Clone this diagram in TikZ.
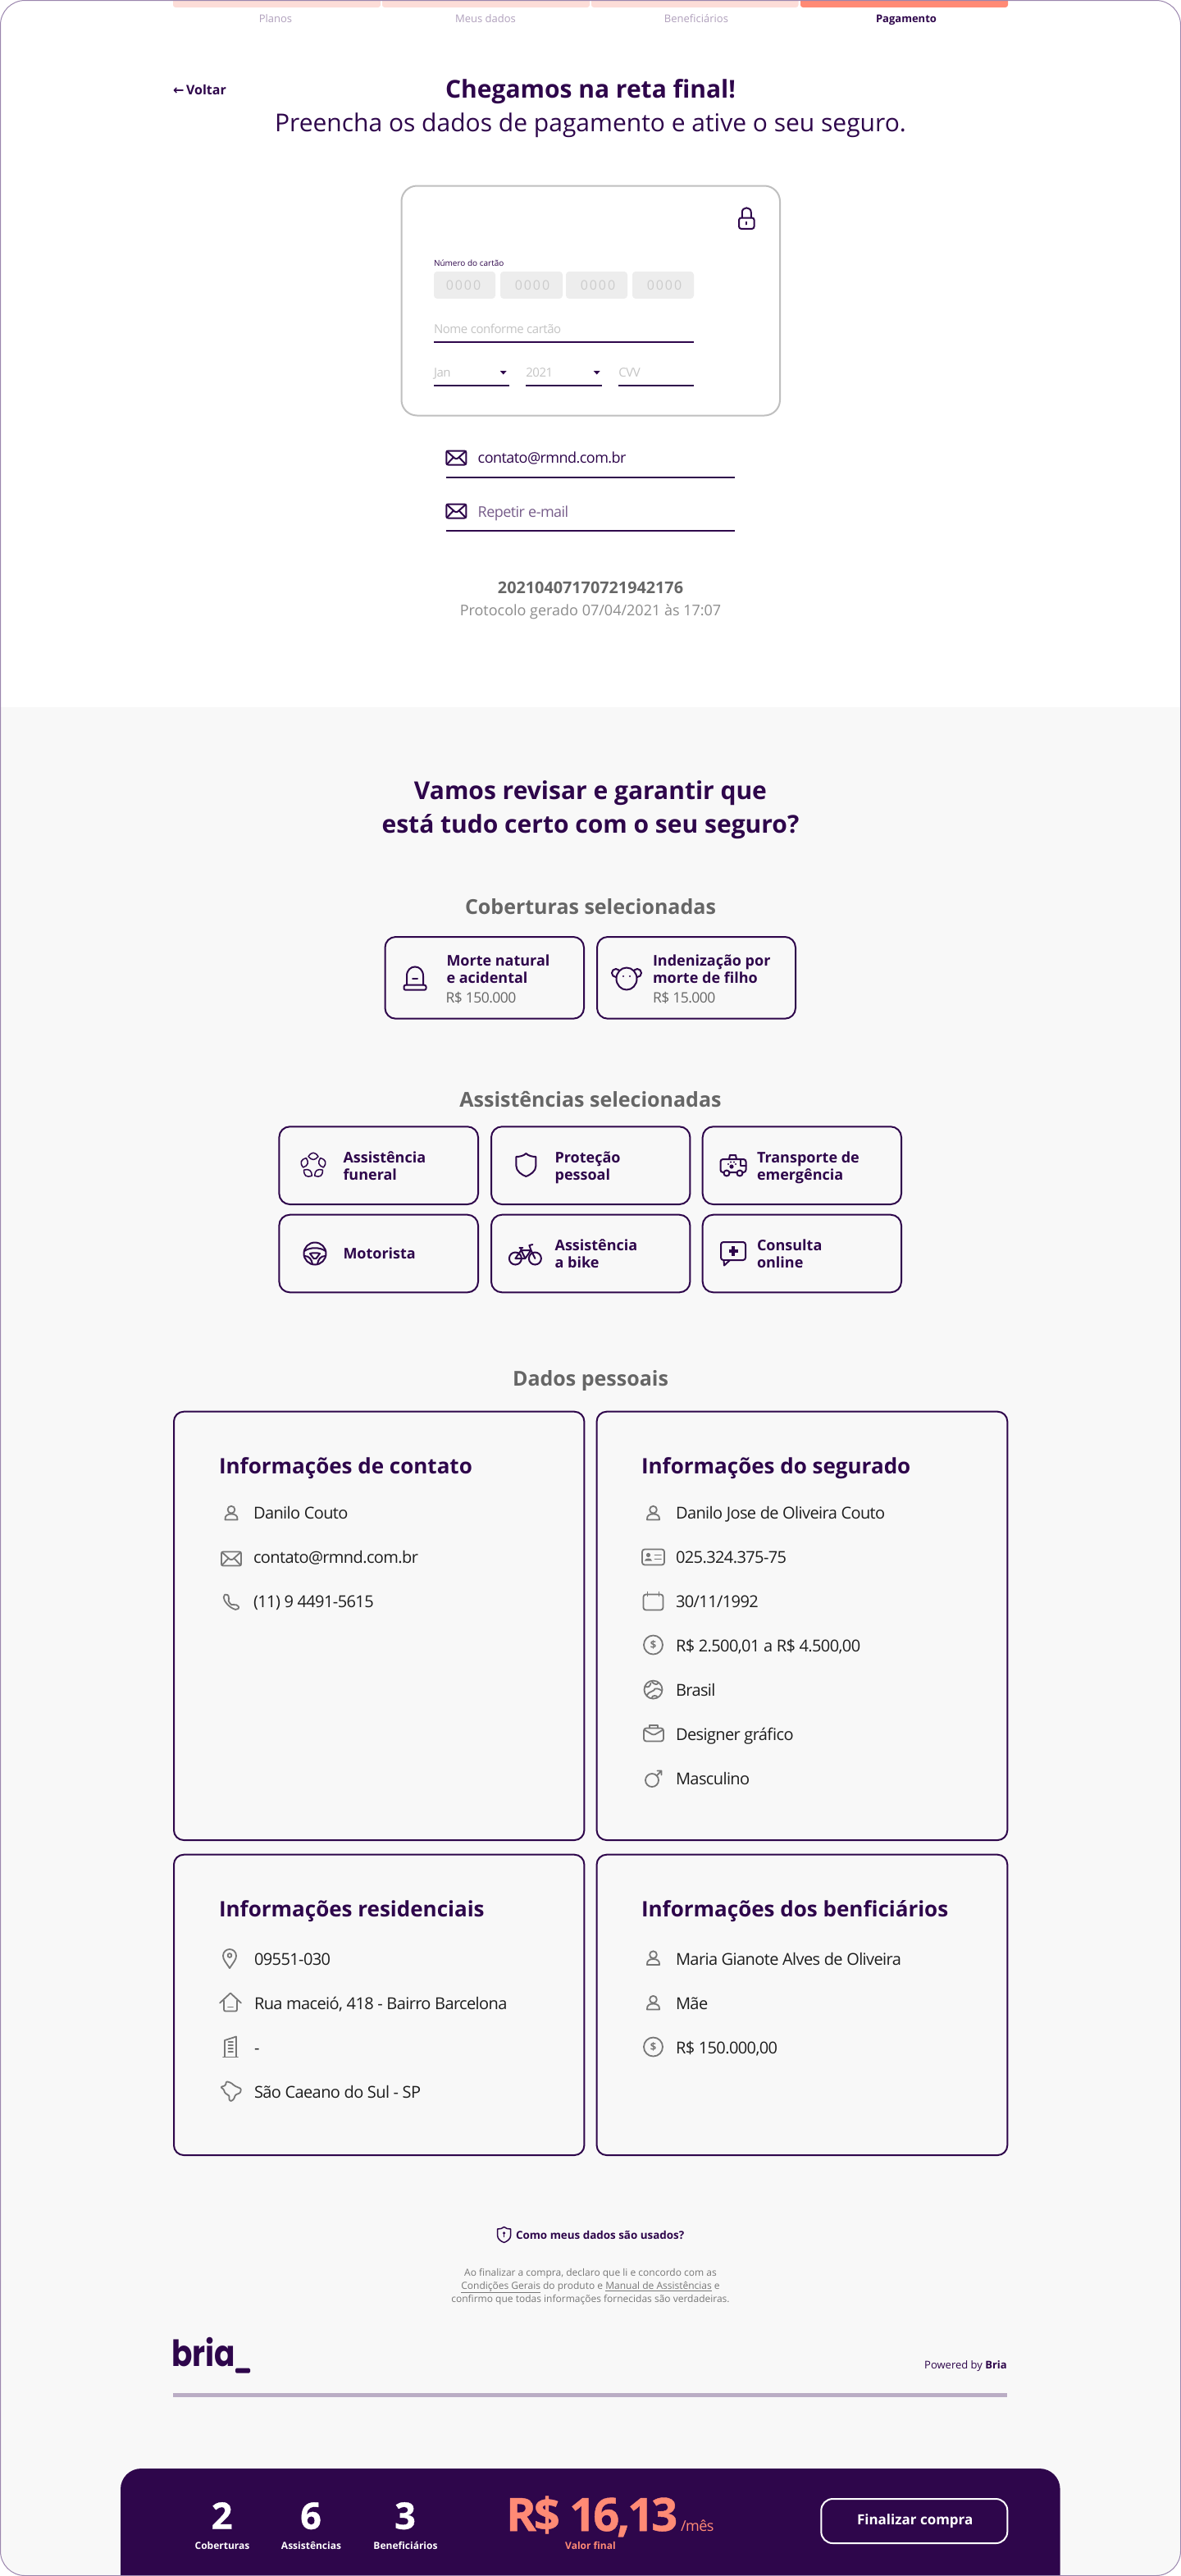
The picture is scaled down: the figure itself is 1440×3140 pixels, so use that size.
\documentclass[tikz,border=0pt]{standalone}
\usepackage{graphicx}
\usepackage{fontspec}
\setmainfont{Open Sans}
\newfontfamily\xb{Open Sans}[BoldFeatures={FakeBold=0.8}]
\newfontfamily\xbt{Open Sans}[BoldFeatures={FakeBold=0.8},LetterSpace=-5.5]
\newfontfamily\spc{Open Sans}[LetterSpace=12]
\newfontfamily\tight{Open Sans}[LetterSpace=-3]
\newfontfamily\pop{Poppins}
\newfontfamily\djv{DejaVu Sans}
\definecolor{ink}{HTML}{2E064B}
\definecolor{frameC}{HTML}{9B86AE}
\definecolor{paper}{HTML}{F8F8F8}
\definecolor{coral}{HTML}{FF8A75}
\definecolor{peach}{HTML}{FDDDD8}
\definecolor{gr}{HTML}{777777}
\definecolor{head}{HTML}{666666}
\definecolor{muted}{HTML}{B0A0BC}
\definecolor{phold}{HTML}{C4C4C4}
\definecolor{txt}{HTML}{1E1E1E}
\newcommand{\fz}[1]{\fontsize{#1}{#1}\selectfont}
\tikzset{
  x=1pt,y=-1pt,
  base/.style={inner sep=0,outer sep=0,anchor=base},
  lft/.style={inner sep=0,outer sep=0,anchor=base west},
  stepl/.style={base,font=\fz{13},text=muted},
  sect/.style={base,font=\bfseries\fz{25},text=head},
  ctitle/.style={lft,font=\bfseries\fz{18},text=ink},
  cval/.style={lft,font=\tight\fz{17.5},text=head},
  ititle/.style={lft,font=\bfseries\fz{26},text=ink},
  row/.style={lft,font=\tight\fz{20},text=txt},
  ph/.style={lft,font=\tight\fz{15},text=phold},
  digits/.style={base,font=\spc\fz{16},text=black!20},
  bnum/.style={base,font=\xb\bfseries\fz{45},text=white},
  blab/.style={base,font=\bfseries\fz{12},text=white},
  cardst/.style={draw=ink,line width=2pt,rounded corners=13pt},
  infost/.style={draw=ink,line width=2pt,rounded corners=12pt},
  fieldln/.style={draw=ink,line width=2pt},
  numbox/.style={fill=black!7,rounded corners=4pt},
  gi/.style={color=gr,line width=1.8pt,line join=round,line cap=round},
  pi/.style={color=ink,line width=2pt,line join=round,line cap=round},
  pics/ipers/.style={code={
    \draw (0,-3.8) circle (4.4);
    \draw (-7.5,8.5) .. controls (-8.2,3) and (-4,1.5) .. (0,1.5) .. controls (4,1.5) and (8.2,3) .. (7.5,8.5) -- cycle;}},
  pics/imail/.style={code={
    \draw[rounded corners=2pt] (-12,-8.5) rectangle (12,8.5);
    \draw (-11.5,-8) -- (-2,0.5) .. controls (-1,1.5) and (1,1.5) .. (2,0.5) -- (11.5,-8);
    \draw (-11.5,8) -- (-3.5,-0.5) (11.5,8) -- (3.5,-0.5);}},
  pics/iphone/.style={code={
    \draw[rounded corners=2pt] (-6,-10) -- (-9.5,-7.5) .. controls (-9,-1) and (-3,7) .. (7,10) -- (10,6.5) -- (4.5,2.5) -- (2,4.5) .. controls (-1,3) and (-3,0) .. (-4,-3) -- (-2,-5.5) -- cycle;}},
  pics/icard/.style={code={
    \draw[rounded corners=3pt] (-13.5,-9.5) rectangle (13.5,9.5);
    \fill (-6,-2.5) circle (2.6);
    \fill (-10.5,4.5) .. controls (-10,0.5) and (-2,0.5) .. (-1.5,4.5) -- cycle;
    \draw (2,-2.5) -- (9.5,-2.5) (2,2.5) -- (9.5,2.5);}},
  pics/ical/.style={code={
    \draw[rounded corners=3pt] (-12,-8) rectangle (12,11);
    \draw (-7,-11) -- (-7,-6) (7,-11) -- (7,-6);}},
  pics/idollar/.style={code={
    \draw (0,0) circle (11.5);
    \node[inner sep=0,text=gr,font=\bfseries\fz{13}] (d) at (0,0) {\$};}},
  pics/iglobe/.style={code={
    \draw (0,0) circle (11);
    \draw (-10,-4) .. controls (-6,-2) and (-4,-4) .. (-3,-8) (-2,-10.5) .. controls (0,-7) and (4,-5) .. (6,-8);
    \draw (-8,7) .. controls (-6,2) and (2,2) .. (2,-1) .. controls (6,-2) and (8,0) .. (10.5,1);
    \draw (-2,10.5) .. controls (-1,6) and (4,7) .. (5,9);}},
  pics/ibag/.style={code={
    \draw[rounded corners=3pt] (-12,-6) rectangle (12,10);
    \draw (-5,-6) -- (-5,-9.5) -- (5,-9.5) -- (5,-6);
    \draw (-11.5,-4) -- (-2,1.5) .. controls (-1,2) and (1,2) .. (2,1.5) -- (11.5,-4);}},
  pics/imale/.style={code={
    \draw (-2,2) circle (8);
    \draw (3.5,-3.5) -- (9.5,-9.5) (4.5,-9.5) -- (9.5,-9.5) -- (9.5,-4.5);}},
  pics/ipin/.style={code={
    \draw (0,11.5) .. controls (-5,4) and (-8,1) .. (-8,-3.5) .. controls (-8,-8.5) and (-4,-11.5) .. (0,-11.5) .. controls (4,-11.5) and (8,-8.5) .. (8,-3.5) .. controls (8,1) and (5,4) .. (0,11.5) -- cycle;
    \draw (0,-4) circle (2.4);}},
  pics/ihouse/.style={code={
    \draw (-13,1) -- (0,-11) -- (13,1);
    \draw[rounded corners=2pt] (-8,-2) -- (-8,11) -- (8,11) -- (8,-2);
    \draw (-3,6) -- (3,6);}},
  pics/ibuild/.style={code={
    \draw (-9,12.5) -- (9,12.5);
    \draw (-7,12) -- (-7,-8) -- (7,-12.5) -- (7,12);
    \foreach \q in {-6,-2,2,6} {\draw (-2.5,\q) -- (3,\q);}}},
  pics/ibr/.style={code={
    \draw[rounded corners=1.2pt] (-12,-5) -- (-6,-7) -- (-5,-12) -- (1,-10) -- (5,-6.5) -- (13,-3) -- (12,2) -- (6,4.5) -- (4,10) -- (0,12.5) -- (-2,9) -- (-1,6) -- (-7,2) -- (-8,-2) -- cycle;}},
  pics/ilock/.style={code={
    \draw[rounded corners=2.5pt] (-9.2,-0.5) rectangle (9.2,12.8);
    \draw (-5.5,-0.5) -- (-5.5,-7) .. controls (-5.5,-14.5) and (5.5,-14.5) .. (5.5,-7) -- (5.5,-0.5);
    \draw (0,4.5) -- (0,7.5);}},
  pics/isiren/.style={code={
    \draw (-10,8) -- (-10,-3) .. controls (-10,-18) and (10,-18) .. (10,-3) -- (10,8);
    \draw (-3,0) -- (3,0);
    \draw[rounded corners=2pt] (-13.5,8) rectangle (13.5,14);}},
  pics/ibear/.style={code={
    \draw (-13,-6) circle (5) (13,-6) circle (5);
    \draw[fill=paper] (0,1) ellipse (12.5 and 13.5);
    \fill (-4,-2) circle (1.2) (4,-2) circle (1.2);}},
  pics/iflower/.style={code={
    \foreach \a in {18,90,162,234,306} {
      \begin{scope}[rotate=\a]
        \draw[line width=1.5pt] (11,-6) .. controls (17,-2) and (17,2) .. (11,6) .. controls (6,2) and (6,-2) .. (11,-6);
      \end{scope}}}},
  pics/ishield/.style={code={
    \draw (0,-14) .. controls (3,-11) and (8,-10) .. (12,-10) -- (12,1) .. controls (12,8) and (5,12) .. (0,14) .. controls (-5,12) and (-12,8) .. (-12,1) -- (-12,-10) .. controls (-8,-10) and (-3,-11) .. (0,-14) -- cycle;}},
  pics/iamb/.style={code={
    \draw[rounded corners=3pt] (-15.5,9) -- (-15.5,-7) -- (15.5,-7) -- (15.5,9) -- cycle;
    \draw (-5,-7) -- (-4,-12) -- (3,-12) -- (4,-7);
    \draw (9,-7) -- (9,1) -- (15.5,1);
    \fill[fill=paper] (-8,10) circle (3.5) (8,10) circle (3.5);
    \draw (-8,10) circle (3.5) (8,10) circle (3.5);
    \fill (-2,2) circle (2.6);
    \fill (-6,-1) circle (1.2) (-3,-3.5) circle (1.2) (1,-3.5) circle (1.2) (3,-1) circle (1.2);}},
  pics/iwheel/.style={code={
    \draw (0,0) circle (13.5);
    \draw (-13,-3) .. controls (-6,-8) and (6,-8) .. (13,-3);
    \draw (-12.5,3) .. controls (-7,3) and (-4,7) .. (-3,13) (12.5,3) .. controls (7,3) and (4,7) .. (3,13);
    \draw (-6,0) .. controls (-3,-1) and (3,-1) .. (6,0) -- (1.5,6) -- (-1.5,6) -- cycle;}},
  pics/ibike/.style={code={
    \draw (-12,5) circle (7.5) (12,5) circle (7.5);
    \draw (-12,5) -- (-5,-5) -- (7,-5) -- (12,5) (-5,-5) -- (0,5) -- (7,-5) (0,5) -- (-12,5);
    \draw (7,-5) -- (5,-11) -- (9,-12) (-7,-8) -- (-3,-8) (-5,-8) -- (-5,-5);}},
  pics/ichat/.style={code={
    \draw[rounded corners=3pt] (-15,-14) rectangle (15,8);
    \fill[fill=paper] (-12,9) -- (-10,14) -- (-4,9) -- cycle;
    \draw (-11.5,8) -- (-11,14.5) -- (-4,8);
    \draw[line width=3.5pt,line cap=butt] (-5.5,-3) -- (5.5,-3) (0,-9) -- (0,3);}},
  pics/ishsmall/.style={code={
    \draw (0,-9.5) .. controls (2,-7.5) and (5,-7) .. (8,-7) -- (8,1) .. controls (8,5) and (4,8) .. (0,9.5) .. controls (-4,8) and (-8,5) .. (-8,1) -- (-8,-7) .. controls (-5,-7) and (-2,-7.5) .. (0,-9.5) -- cycle;
    \fill (0,-2) circle (1.8);
    \draw (0,-2) -- (0,2.5);}},
}
\begin{document}
\begin{tikzpicture}
\useasboundingbox (0,0) rectangle (1440,3140);
\fill[white] (0,0) rectangle (1440,3140);
\begin{scope}
  \clip[rounded corners=30pt] (0.5,0.5) rectangle (1439.5,3139.5);
  \fill[paper] (0,862) rectangle (1440,3140);
  \fill[peach,rounded corners=3pt] (211,-6) rectangle (464,9);
  \fill[peach,rounded corners=3pt] (466,-6) rectangle (719,9);
  \fill[peach,rounded corners=3pt] (721,-6) rectangle (973.5,9);
  \fill[coral,rounded corners=3pt] (976,-6) rectangle (1229,9);
  \fill[ink,rounded corners=25pt] (147,3009) rectangle (1292.6,3190);
\end{scope}
\draw[frameC,line width=1pt,rounded corners=30pt] (0.5,0.5) rectangle (1439.5,3139.5);

% steps
\node[stepl] (s1) at (336,27) {Planos};
\node[stepl] (s2) at (592,27) {Meus dados};
\node[stepl] (s3) at (849,27) {Beneficiários};
\node[stepl,text=ink,font=\bfseries\fz{13}] (s4) at (1105,27) {Pagamento};

% header
\node[lft,text=ink,font=\bfseries\fz{16}] (back) at (211,115) {{\djv\bfseries\fz{16}←}\,Voltar};
\node[base,text=ink,font=\bfseries\fz{30}] (h1) at (720,119) {Chegamos na reta final!};
\node[base,text=ink,font=\fz{30}] (h2) at (720,160) {Preencha os dados de pagamento e ative o seu seguro.};

% payment card
\draw[draw=black!25,line width=2pt,rounded corners=19pt] (489.5,226.5) rectangle (951,506.5);
\pic[pi] at (910.3,266) {ilock};
\node[lft,text=ink,font=\fz{10}] (cn) at (529,324) {Número do cartão};
\fill[numbox] (529,331) rectangle (604,364);
\fill[numbox] (610,331) rectangle (686,364);
\fill[numbox] (690,331) rectangle (765,364);
\fill[numbox] (771,331) rectangle (846,364);
\node[digits] (d1) at (565,353) {0000};
\node[digits] (d2) at (649,353) {0000};
\node[digits] (d3) at (729,353) {0000};
\node[digits] (d4) at (810,353) {0000};
\node[ph] (nm) at (529,406) {Nome conforme cartão};
\draw[fieldln] (529,416.8) -- (846,416.8);
\node[ph] (mo) at (529,459) {Jan};
\node[ph] (yr) at (641.3,459) {2021};
\node[ph] (cv) at (754.3,459) {CVV};
\fill[ink] (609.7,452) -- (617.7,452) -- (613.7,456.5) -- cycle;
\fill[ink] (723.7,452) -- (731.7,452) -- (727.7,456.5) -- cycle;
\draw[fieldln] (529,470) -- (621,470);
\draw[fieldln] (641,470) -- (734,470);
\draw[fieldln] (754,470) -- (846,470);

% emails
\pic[pi] at (556.3,558) {imail};
\node[lft,text=ink,font=\tight\fz{18}] (em1) at (582.7,564) {contato@rmnd.com.br};
\draw[fieldln] (544,581.8) -- (896,581.8);
\pic[pi] at (556.3,623) {imail};
\node[lft,text=ink!65,font=\tight\fz{18}] (em2) at (582.7,630) {Repetir e-mail};
\draw[fieldln] (544,646.8) -- (896,646.8);
\node[base,text=head,font=\bfseries\fz{19.8}] (pn) at (720,723) {20210407170721942176};
\node[base,text=black!45,font=\fz{18}] (pd) at (720,750.7) {Protocolo gerado 07/04/2021 às 17:07};

% review title
\node[base,text=ink,font=\bfseries\fz{30}] (r1) at (720,974) {Vamos revisar e garantir que};
\node[base,text=ink,font=\bfseries\fz{30}] (r2) at (720,1015) {está tudo certo com o seu seguro?};

% coberturas
\node[sect] (t1) at (720,1114) {Coberturas selecionadas};
\draw[cardst] (469.5,1142) rectangle (712,1241.7);
\draw[cardst] (728,1142) rectangle (970,1241.7);
\pic[pi] at (506,1192.7) {isiren};
\node[ctitle] (c1a) at (544.5,1177.5) {Morte natural};
\node[ctitle] (c1b) at (544.5,1198.3) {e acidental};
\node[cval] (c1c) at (543.5,1222.7) {R\$ 150.000};
\pic[pi] at (764,1192) {ibear};
\node[ctitle] (c2a) at (796,1177.5) {Indenização por};
\node[ctitle] (c2b) at (796,1198.3) {morte de filho};
\node[cval] (c2c) at (796,1222.7) {R\$ 15.000};

% assistencias
\node[sect] (t2) at (720,1349) {Assistências selecionadas};
\draw[cardst] (340.4,1373.3) rectangle (583,1468);
\draw[cardst] (599,1373.3) rectangle (841.4,1468);
\draw[cardst] (856.7,1373.3) rectangle (1099,1468);
\draw[cardst] (340.4,1480.7) rectangle (583,1575.3);
\draw[cardst] (599,1480.7) rectangle (841.4,1575.3);
\draw[cardst] (856.7,1480.7) rectangle (1099,1575.3);
\pic[pi] at (382,1420.7) {iflower};
\node[ctitle] (a1a) at (418.5,1417.3) {Assistência};
\node[ctitle] (a1b) at (418.5,1438.3) {funeral};
\pic[pi] at (641.4,1420) {ishield};
\node[ctitle] (a2a) at (676.6,1417.3) {Proteção};
\node[ctitle] (a2b) at (676.6,1438.3) {pessoal};
\pic[pi] at (894,1420) {iamb};
\node[ctitle] (a3a) at (923,1417.3) {Transporte de};
\node[ctitle] (a3b) at (923,1438.3) {emergência};
\pic[pi] at (384,1528) {iwheel};
\node[ctitle] (a4a) at (418.5,1534.3) {Motorista};
\pic[pi] at (640.4,1529) {ibike};
\node[ctitle] (a5a) at (676.6,1524.3) {Assistência};
\node[ctitle] (a5b) at (676.6,1545.3) {a bike};
\pic[pi] at (894,1528) {ichat};
\node[ctitle] (a6a) at (923,1524.3) {Consulta};
\node[ctitle] (a6b) at (923,1545.3) {online};

% dados pessoais
\node[sect] (t3) at (720,1689) {Dados pessoais};
\draw[infost] (212,1720.7) rectangle (712.4,2243);
\draw[infost] (727.6,1720.7) rectangle (1228.3,2243);
\draw[infost] (212,2260.7) rectangle (712.4,2627);
\draw[infost] (727.6,2260.7) rectangle (1228.3,2627);

\node[ititle] (i1) at (267,1796.5) {Informações de contato};
\pic[gi] at (282,1844) {ipers};
\node[row] (i1a) at (309,1851.5) {Danilo Couto};
\pic[gi] at (282,1900) {imail};
\node[row] (i1b) at (309,1905.5) {contato@rmnd.com.br};
\pic[gi] at (282,1952.5) {iphone};
\node[row] (i1c) at (309,1959.5) {(11) 9 4491-5615};

\node[ititle] (i2) at (782,1796.5) {Informações do segurado};
\pic[gi] at (796.5,1844) {ipers};
\node[row] (i2a) at (824,1851.5) {Danilo Jose de Oliveira Couto};
\pic[gi] at (796.5,1898) {icard};
\node[row] (i2b) at (824,1905.5) {025.324.375-75};
\pic[gi] at (796.5,1951.5) {ical};
\node[row] (i2c) at (824,1959.5) {30/11/1992};
\pic[gi] at (796.5,2005) {idollar};
\node[row] (i2d) at (824,2013) {R\$ 2.500,01 a R\$ 4.500,00};
\pic[gi] at (796.5,2059.6) {iglobe};
\node[row] (i2e) at (824,2067) {Brasil};
\pic[gi] at (797,2112.5) {ibag};
\node[row] (i2f) at (824,2121) {Designer gráfico};
\pic[gi] at (797,2168) {imale};
\node[row] (i2g) at (824,2175) {Masculino};

\node[ititle] (i3) at (267,2336.5) {Informações residenciais};
\pic[gi] at (280,2387.5) {ipin};
\node[row] (i3a) at (310,2395) {09551-030};
\pic[gi] at (281,2440.5) {ihouse};
\node[row] (i3b) at (310,2449.5) {Rua maceió, 418 - Bairro Barcelona};
\pic[gi] at (281,2495) {ibuild};
\node[row] (i3c) at (310,2503.5) {-};
\pic[gi] at (281,2549) {ibr};
\node[row] (i3d) at (310,2557.5) {São Caeano do Sul - SP};

\node[ititle] (i4) at (782,2336.5) {Informações dos benficiários};
\pic[gi] at (796.5,2386.5) {ipers};
\node[row] (i4a) at (824,2395) {Maria Gianote Alves de Oliveira};
\pic[gi] at (796.5,2441) {ipers};
\node[row] (i4b) at (824,2449.5) {Mãe};
\pic[gi] at (796.5,2495) {idollar};
\node[row] (i4c) at (824,2503.5) {R\$ 150.000,00};

% footer
\pic[pi,line width=1.5pt] at (614.6,2724) {ishsmall};
\node[lft,text=ink,font=\bfseries\fz{13.4}] (q) at (629,2729) {Como meus dados são usados?};
\node[inner sep=0,align=center,text=gr,font=\fontsize{12}{16}\selectfont] (legal) at (720,2787) {Ao finalizar a compra, declaro que li e concordo com as\\\underline{Condições Gerais} do produto e \underline{Manual de Assistências} e\\confirmo que todas informações fornecidas são verdadeiras.};
\node[lft,text=ink,font=\pop\bfseries\fz{44}] (logo) at (209,2884) {\scalebox{.85}[1]{bria}};
\fill[ink,rounded corners=1.5pt] (287,2886.7) rectangle (305,2892.7);
\node[inner sep=0,anchor=base east,text=ink,font=\fz{13}] (pw) at (1228,2887.7) {Powered by \textbf{Bria}};
\fill[ink!33] (211,2917) rectangle (1228,2921.7);

% bottom bar
\node[bnum] (n1) at (270.7,3082.7) {2};
\node[bnum] (n2) at (379,3082.7) {6};
\node[bnum] (n3) at (494,3082.7) {3};
\node[blab] (l1) at (271,3107.7) {Coberturas};
\node[blab] (l2) at (379.5,3107.7) {Assistências};
\node[blab] (l3) at (494.5,3107.7) {Beneficiários};
\node[lft,text=coral,font=\xbt\bfseries\fz{56}] (price) at (617,3085) {R\$ 16,13};
\node[lft,text=coral,font=\tight\fz{18}] (pm) at (830,3085) {/mês};
\node[base,text=coral,font=\bfseries\fz{12}] (vf) at (720,3107.7) {Valor final};
\node[draw=white,line width=2pt,rounded corners=14pt,minimum width=227pt,minimum height=54pt,inner sep=0] (btn) at (1114.8,3073) {};
\node[base,text=white,font=\bfseries\fz{17}] (btnt) at (1115.7,3077.7) {Finalizar compra};
\end{tikzpicture}
\end{document}
